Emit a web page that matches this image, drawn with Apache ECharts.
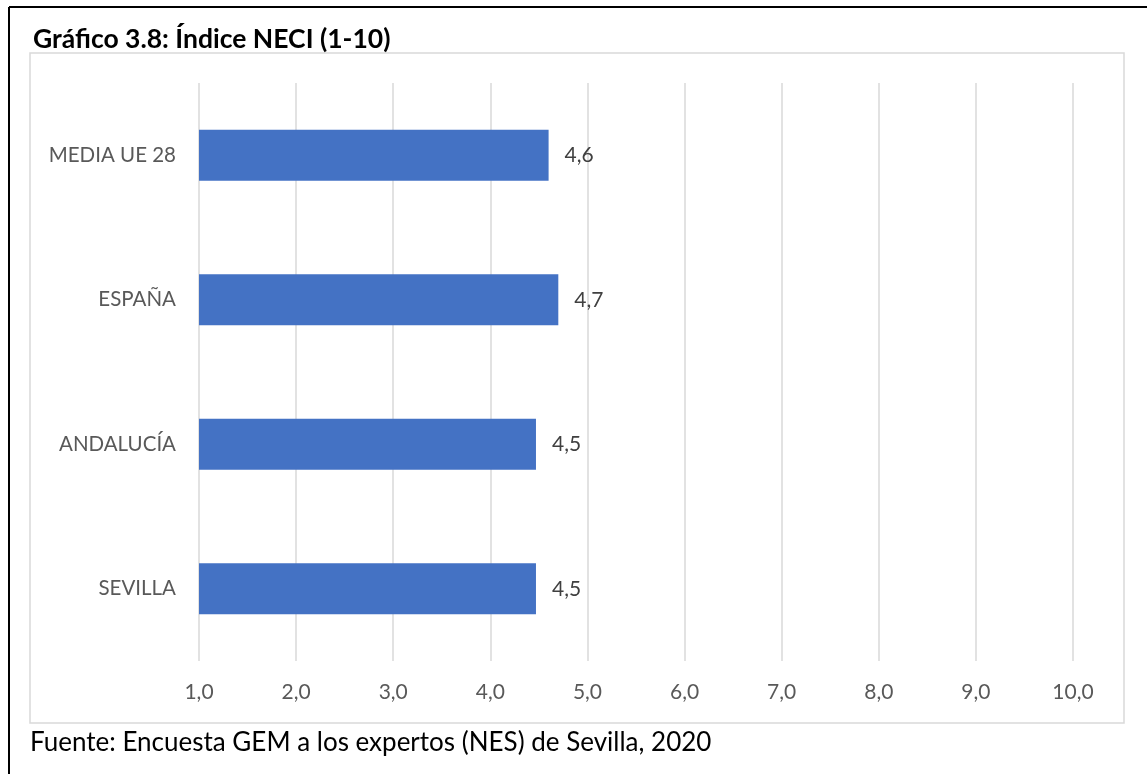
<!DOCTYPE html>
<html>
<head>
<meta charset="utf-8">
<script src="https://cdn.jsdelivr.net/npm/echarts@6/dist/echarts.min.js"></script>
<style>
  html, body { margin: 0; padding: 0; background: #fff; }
  #chart { width: 1147px; height: 774px; }
</style>
</head>
<body>
<div id="chart"></div>
<script>
// datos del gráfico
const categories = ["MEDIA UE 28", "ESPAÑA", "ANDALUCÍA", "SEVILLA"];
const neciValues = [4.6, 4.7, 4.47, 4.47];
const axisMin = 1;
const axisMax = 10;
const axisStep = 1;

const chartTitle = "Gráfico 3.8: Índice NECI (1-10)";
const sourceText = "Fuente: Encuesta GEM a los expertos (NES) de Sevilla, 2020";

const fontFamily = "Lato, 'Open Sans', sans-serif";
const fmt = (v) => v.toFixed(1).replace(".", ",");

const myChart = echarts.init(document.getElementById("chart"));

myChart.setOption({
  animation: false,
  title: {
    text: chartTitle,
    left: 28,
    top: 21,
    textStyle: {
      fontFamily: fontFamily,
      fontWeight: "bold",
      fontSize: 26.5,
      color: "#000",
    },
  },
  graphic: [
    // marco exterior (solo arriba e izquierda visibles)
    {
      type: "line",
      shape: { x1: 9, y1: 7, x2: 1147, y2: 7 },
      style: { stroke: "#000", lineWidth: 2 },
    },
    {
      type: "line",
      shape: { x1: 9, y1: 7, x2: 9, y2: 774 },
      style: { stroke: "#000", lineWidth: 2 },
    },
    // caja del área del gráfico
    {
      type: "rect",
      shape: { x: 30, y: 53, width: 1094, height: 670 },
      style: { fill: null, stroke: "#d9d9d9", lineWidth: 1.5 },
      z: -1,
    },
    {
      type: "text",
      left: 30,
      top: 730,
      style: {
        text: sourceText,
        font: "26px " + fontFamily,
        fill: "#000",
      },
    },
  ],
  grid: {
    left: 199,
    right: 74,
    top: 83,
    bottom: 113,
    containLabel: false,
  },
  xAxis: {
    type: "value",
    min: axisMin,
    max: axisMax,
    interval: axisStep,
    axisLine: { show: false },
    axisTick: { show: false },
    axisLabel: {
      formatter: fmt,
      margin: 21,
      fontSize: 21,
      fontFamily: fontFamily,
      color: "#595959",
    },
    splitLine: {
      lineStyle: { color: "#d9d9d9", width: 1.5 },
    },
  },
  yAxis: {
    type: "category",
    data: categories,
    inverse: true,
    axisLine: { show: false },
    axisTick: { show: false },
    axisLabel: {
      margin: 23,
      fontSize: 20.5,
      fontFamily: fontFamily,
      color: "#595959",
    },
  },
  series: [
    {
      type: "bar",
      data: neciValues,
      barWidth: 51,
      itemStyle: { color: "#4472c4" },
      label: {
        show: true,
        position: "right",
        distance: 16,
        formatter: (p) => fmt(p.value),
        fontSize: 21,
        fontFamily: fontFamily,
        color: "#404040",
      },
    },
  ],
});

window.addEventListener("resize", function () {
  myChart.resize();
});
</script>
</body>
</html>
